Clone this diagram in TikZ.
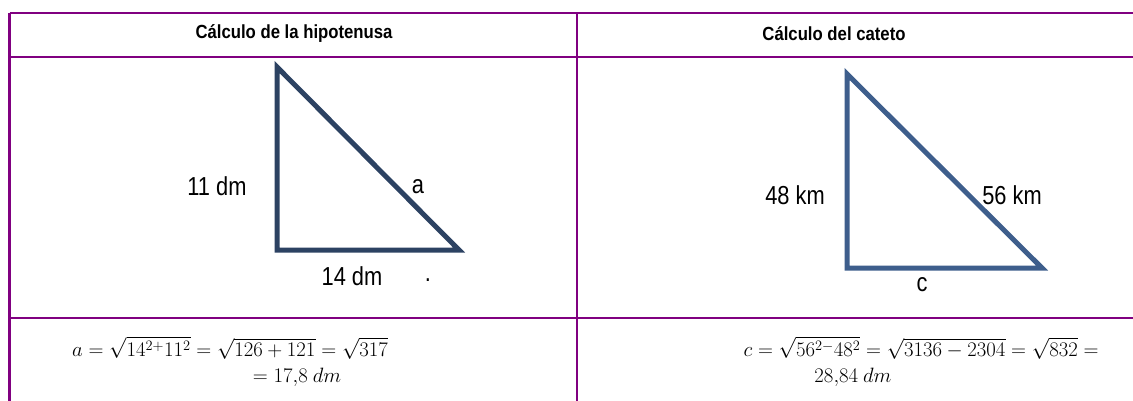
\documentclass[tikz,border=0pt]{standalone}
\usepackage[no-math]{fontspec}
\setmainfont{Liberation Sans}[FakeStretch=0.84]
\newfontfamily\hdrfont{Liberation Sans}[FakeStretch=0.88]
\definecolor{tabpurple}{RGB}{128,0,128}
\definecolor{navyA}{RGB}{44,66,98}
\definecolor{navyB}{RGB}{62,94,140}
\begin{document}
\begin{tikzpicture}[x=1pt,y=-1pt,
  grid/.style={draw=tabpurple,line width=2.4pt},
  hdr/.style={font=\hdrfont\fontsize{19}{21}\selectfont\bfseries},
  lbl/.style={font=\fontsize{26}{28}\selectfont,inner sep=0pt},
  eq/.style={font=\fontsize{21.5}{24}\selectfont,anchor=base,inner sep=0pt},
  tri/.style={line width=5pt,line join=miter}]
\useasboundingbox (0,0) rectangle (1133,401);
% table grid
\coordinate (tl) at (9.5,13);
\coordinate (tr) at (1133,13);
\coordinate (hl) at (9.5,57);
\coordinate (hr) at (1133,57);
\coordinate (ml) at (9.5,318);
\coordinate (mr) at (1133,318);
\coordinate (bl) at (9.5,401);
\coordinate (ct) at (577,13);
\coordinate (cb) at (577,401);
\draw[grid] (tl) -- (tr);
\draw[grid] (hl) -- (hr);
\draw[grid] (ml) -- (mr);
\draw[grid] (tl) -- (bl);
\draw[grid] (ct) -- (cb);
% headers
\node[hdr] (h1) at (294,34) {Cálculo de la hipotenusa};
\node[hdr] (h2) at (834,34) {Cálculo del cateto};
% triangle 1
\coordinate (A1) at (277,67);
\coordinate (B1) at (277,250);
\coordinate (C1) at (459,250);
\draw[tri,draw=navyA] (A1) -- (B1) -- (C1) -- cycle;
\node[lbl] (l11) at (217,186) {11 dm};
\node[lbl] (la) at (418,187) {a};
\node[lbl] (l14) at (352,276) {14 dm};
\node[lbl] (dot) at (428,280) {.};
% triangle 2
\coordinate (A2) at (847,74);
\coordinate (B2) at (847,268);
\coordinate (C2) at (1042,268);
\draw[tri,draw=navyB] (A2) -- (B2) -- (C2) -- cycle;
\node[lbl] (l48) at (795,195) {48 km};
\node[lbl] (l56) at (1012,195) {56 km};
\node[lbl] (lc) at (922,285) {c};
% equations
\node[eq] (e1) at (230,356) {$a=\sqrt{14^{2+}11^2}=\sqrt{126+121}=\sqrt{317}$};
\node[eq] (e2) at (297,382) {$=17{,}8\ dm$};
\node[eq] (e3) at (921,356) {$c=\sqrt{56^{2-}48^2}=\sqrt{3136-2304}=\sqrt{832}=$};
\node[eq] (e4) at (853,382) {$28{,}84\ dm$};
\end{tikzpicture}
\end{document}
